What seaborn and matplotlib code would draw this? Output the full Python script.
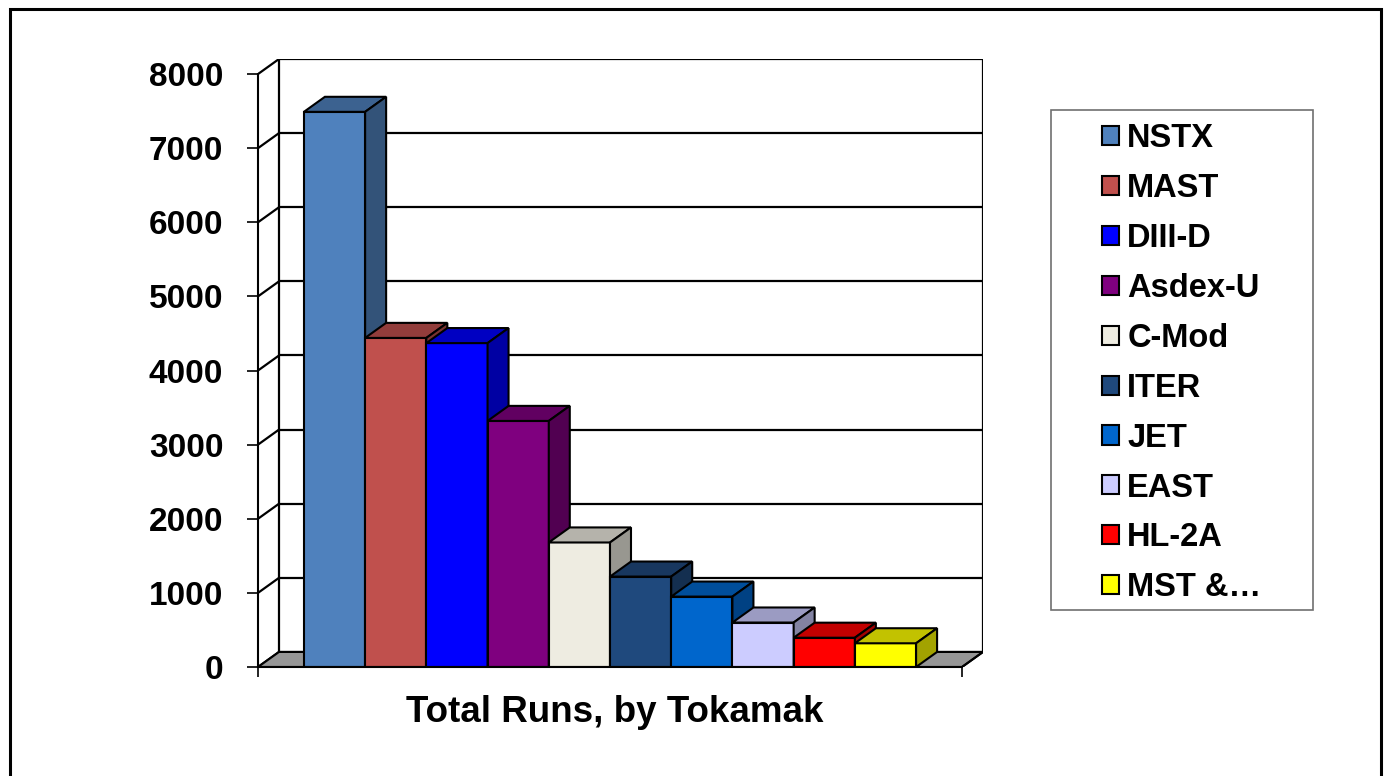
import matplotlib
matplotlib.use("Agg")
import matplotlib.pyplot as plt
from matplotlib.patches import Polygon, Rectangle, Patch
from matplotlib.colors import to_rgb
import seaborn as sns
import pandas as pd

# data
tokamaks = ["NSTX", "MAST", "DIII-D", "Asdex-U", "C-Mod", "ITER", "JET", "EAST", "HL-2A", "MST &…"]
runs = [7490, 4440, 4370, 3320, 1680, 1220, 950, 600, 395, 320]
colors = ["#4F81BD", "#C0504D", "#0000FF", "#7F007F", "#EEECE1",
          "#1F497D", "#0066CC", "#CCCCFF", "#FF0000", "#FFFF00"]
yticks = [0, 1000, 2000, 3000, 4000, 5000, 6000, 7000, 8000]
xlabel = "Total Runs, by Tokamak"

W, H = 1384, 776
# pseudo-3d depth offset (in data units)
DX = 0.343
DY = 203
X0, X1 = -1.25, 10.25

sns.set_style("white")
plt.rcParams["font.family"] = ["Liberation Sans", "DejaVu Sans"]
plt.rcParams["font.weight"] = "bold"
for k in ["text.color", "axes.labelcolor", "xtick.color", "ytick.color"]:
    plt.rcParams[k] = "black"

fig = plt.figure(figsize=(W / 100, H / 100), dpi=100)
ax = fig.add_axes([258 / W, (H - 667) / H, 725 / W, 608 / H])

df = pd.DataFrame({"tokamak": tokamaks, "runs": runs})
sns.barplot(data=df, x="tokamak", y="runs", hue="tokamak",
            palette=dict(zip(tokamaks, colors)), width=1.0, saturation=1,
            legend=False, edgecolor="black", linewidth=1.5, ax=ax)


def shade(c, f):
    r, g, b = to_rgb(c)
    return (r * f, g * f, b * f)


# back wall, side wall and floor
floor = Polygon([(X0, 0), (X1, 0), (X1 + DX, DY), (X0 + DX, DY)], closed=True,
                facecolor="#969696", edgecolor="black", lw=1.5, zorder=0.8)
ax.add_patch(floor)
for t in yticks:
    ax.plot([X0 + DX, X1 + DX], [t + DY, t + DY], color="black", lw=1.6, zorder=0.5)
    ax.plot([X0, X0 + DX], [t, t + DY], color="black", lw=1.6, zorder=0.5)
ax.plot([X0 + DX, X0 + DX], [DY, yticks[-1] + DY], color="black", lw=1.6, zorder=0.5)
ax.plot([X1 + DX, X1 + DX], [DY, yticks[-1] + DY], color="black", lw=1.6, zorder=0.5)
ax.plot([X1, X1 + DX], [0, DY], color="black", lw=1.5, zorder=0.9)

# top and side faces from the bars seaborn drew
for i, cont in enumerate(ax.containers):
    for p in cont.patches:
        x0, w, h = p.get_x(), p.get_width(), p.get_height()
        fc = p.get_facecolor()
        z = 2 + i * 0.1
        p.set_zorder(z)
        top = Polygon([(x0, h), (x0 + w, h), (x0 + w + DX, h + DY), (x0 + DX, h + DY)],
                      closed=True, facecolor=shade(fc, 0.76), edgecolor="black",
                      lw=1.5, zorder=z + 0.05)
        side = Polygon([(x0 + w, 0), (x0 + w + DX, DY), (x0 + w + DX, h + DY), (x0 + w, h)],
                       closed=True, facecolor=shade(fc, 0.64), edgecolor="black",
                       lw=1.5, zorder=z + 0.05)
        ax.add_patch(top)
        ax.add_patch(side)

ax.set_xlim(X0, X1 + DX)
ax.set_ylim(0, yticks[-1] + DY)
ax.set_yticks(yticks)
ax.set_yticklabels([str(t) for t in yticks], fontsize=24, fontweight="bold")
ax.set_xticks([X0, X1])
ax.set_xticklabels(["", ""])
ax.tick_params(axis="y", direction="out", length=8, width=1.2, pad=17, left=True, colors="black")
ax.tick_params(axis="x", direction="out", length=7, width=1.2, bottom=True)
for s in ["top", "right"]:
    ax.spines[s].set_visible(False)
ax.spines["left"].set_bounds(0, yticks[-1])
ax.spines["bottom"].set_bounds(X0, X1)
for s in ["left", "bottom"]:
    ax.spines[s].set_color("black")
    ax.spines[s].set_linewidth(1.5)
    ax.spines[s].set_zorder(3)
ax.set_ylabel("")
ax.set_xlabel(xlabel, fontsize=26.5, fontweight="bold", color="black")
ax.xaxis.set_label_coords(0.492, -0.046)
ax.patch.set_alpha(0)

# legend with separate frame box
handles = [Patch(facecolor=c, edgecolor="black", linewidth=1.5) for c in colors]
fig.legend(handles, tokamaks, loc="upper left", bbox_to_anchor=(1102 / W, 1 - 123 / H),
           frameon=False, prop={"size": 23.5, "weight": "bold"}, borderpad=0, borderaxespad=0,
           handlelength=0.52, handleheight=0.52, handletextpad=0.25, labelspacing=0.58)
fig.patches.append(Rectangle((1051 / W, 1 - 610 / H), 262 / W, 500 / H, transform=fig.transFigure,
                             fill=False, edgecolor="#707070", lw=1.2))
fig.patches.append(Rectangle((9.5 / W, -0.05), (1381 - 9.5) / W, 1.05 - 9.5 / H,
                             transform=fig.transFigure, fill=False, edgecolor="black", lw=2.2))

fig.savefig("out.png", dpi=100)
plt.close(fig)
